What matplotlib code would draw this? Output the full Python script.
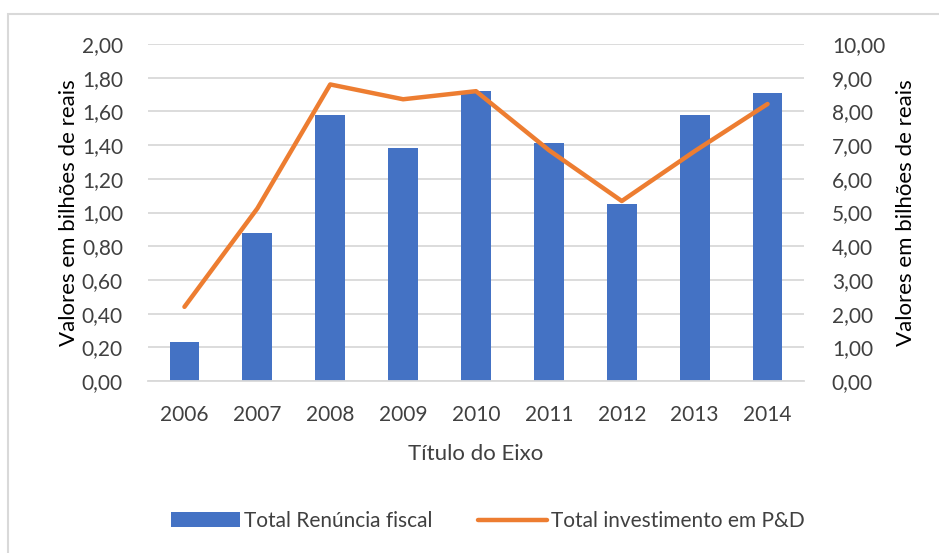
import numpy as np
import matplotlib.pyplot as plt
from matplotlib.patches import Rectangle
from matplotlib.ticker import FuncFormatter

plt.rcParams['font.family'] = ['Lato', 'DejaVu Sans']

anos = ['2006', '2007', '2008', '2009', '2010', '2011', '2012', '2013', '2014']
renuncia = [0.23, 0.88, 1.58, 1.38, 1.72, 1.41, 1.05, 1.58, 1.71]   # bilhões, eixo esquerdo
investimento = [2.20, 5.12, 8.80, 8.36, 8.60, 6.85, 5.34, 6.82, 8.22]  # bilhões, eixo direito

azul = '#4472c4'
laranja = '#ed7d31'
cinza = '#d9d9d9'
texto = '#404040'

fig = plt.figure(figsize=(9.39, 5.53), dpi=100)
W, H = 939, 553
# moldura do gráfico (só esquerda e topo ficam visíveis)
fig.patches.append(Rectangle((8 / W, -0.2), 2.0, 1.2 - 14 / H, transform=fig.transFigure,
                             fill=False, edgecolor='#d9d9d9', linewidth=1.5))

ax = fig.add_axes([148 / W, 1 - 381 / H, (804 - 148) / W, (381 - 44) / H])
x = np.arange(len(anos))
ax.bar(x, renuncia, width=0.41, color=azul, zorder=2, label='Total Renúncia fiscal')
ax.set_ylim(0, 2.0)
ax.set_yticks(np.arange(0, 2.01, 0.2))
ax.set_xlim(-0.5, len(anos) - 0.5)
ax.set_xticks(x)
ax.set_xticklabels(anos)
ax.grid(axis='y', color=cinza, linewidth=1.3, zorder=0)
ax.set_axisbelow(True)
for s in ['top', 'right', 'left']:
    ax.spines[s].set_visible(False)
ax.spines['bottom'].set_color(cinza)
ax.spines['bottom'].set_linewidth(1.3)
ax.tick_params(length=0, labelsize=15, colors=texto, pad=17)
ax.tick_params(axis='y', pad=18)

fmt = FuncFormatter(lambda v, p: f'{v:.2f}'.replace('.', ','))
ax.yaxis.set_major_formatter(fmt)
ax.set_ylabel('Valores em bilhões de reais', fontsize=16, color='black', labelpad=2)
ax.set_xlabel('Título do Eixo', fontsize=16, color=texto, labelpad=14)

ax2 = ax.twinx()
ax2.plot(x, investimento, color=laranja, linewidth=3.2, solid_capstyle='round',
         solid_joinstyle='round', zorder=3, label='Total investimento em P&D')
ax2.set_ylim(0, 10)
ax2.set_yticks(np.arange(0, 10.01, 1))
ax2.yaxis.set_major_formatter(fmt)
for s in ['top', 'right', 'left', 'bottom']:
    ax2.spines[s].set_visible(False)
ax2.tick_params(length=0, labelsize=15, colors=texto, pad=20)
ax2.set_ylabel('Valores em bilhões de reais', fontsize=16, color='black', labelpad=8)

h1, l1 = ax.get_legend_handles_labels()
h2, l2 = ax2.get_legend_handles_labels()
fig.legend(h1 + h2, l1 + l2, loc='center', bbox_to_anchor=(488 / W, 1 - 521 / H),
           ncol=2, frameon=False, fontsize=15, handlelength=3.3, handletextpad=0.2,
           columnspacing=2.2, labelcolor=texto)

fig.savefig('out.png', dpi=100)
